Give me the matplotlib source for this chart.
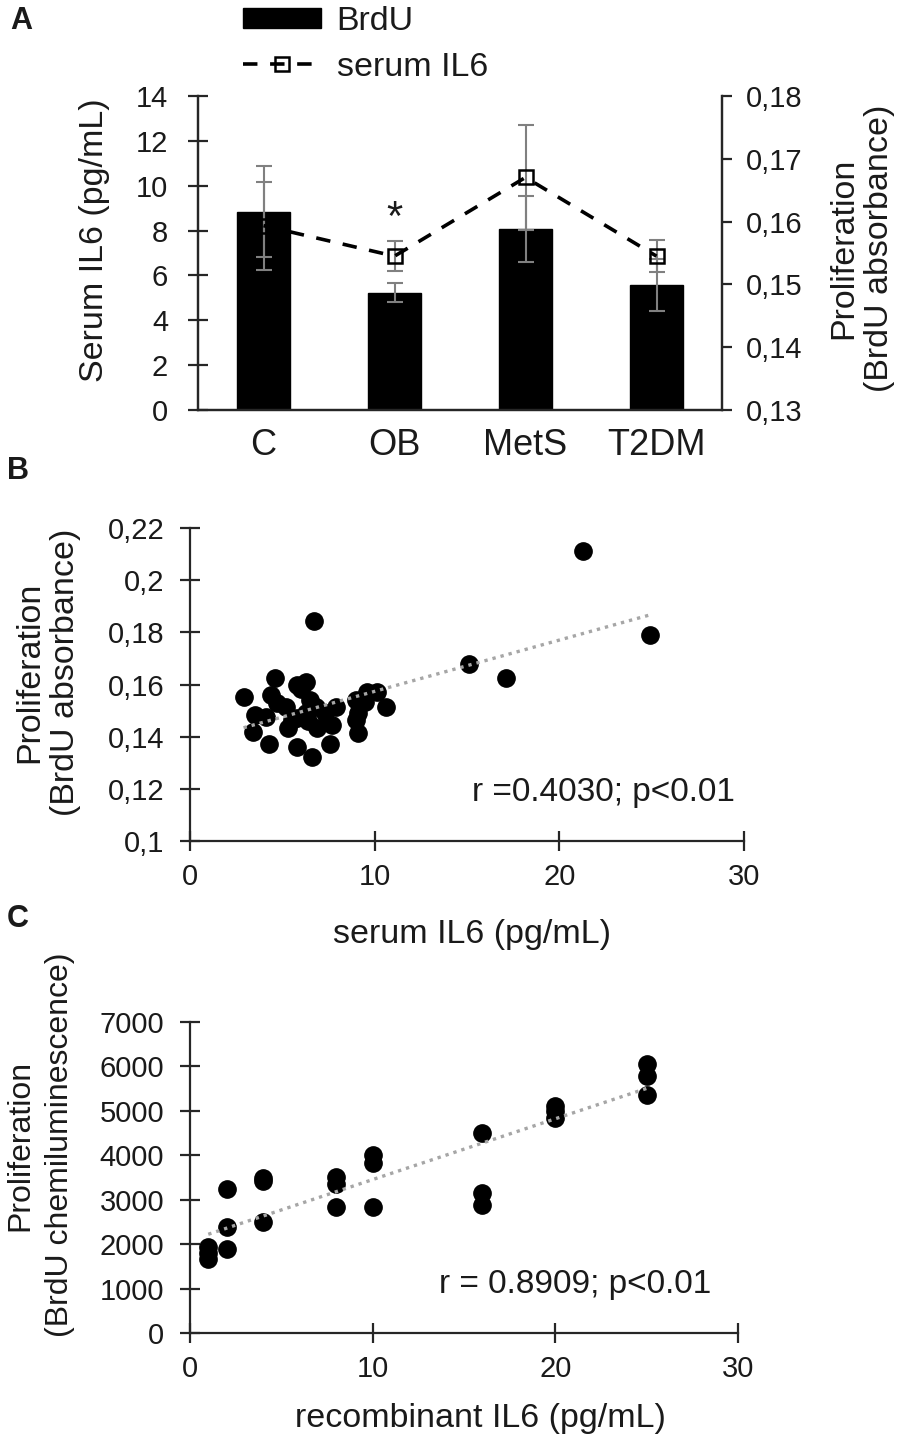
import numpy as np
import matplotlib
matplotlib.use('Agg')
import matplotlib.pyplot as plt

plt.rcParams['font.family'] = ['Liberation Sans', 'DejaVu Sans']
TXT = '#1a1a1a'
plt.rcParams['text.color'] = TXT
plt.rcParams['xtick.color'] = '#262626'
plt.rcParams['ytick.color'] = '#262626'
plt.rcParams['xtick.labelcolor'] = TXT
plt.rcParams['ytick.labelcolor'] = TXT

# ---------------- Panel A data ----------------
groups = ['C', 'OB', 'MetS', 'T2DM']
brdu_mean = [0.1616, 0.1487, 0.1588, 0.1499]
brdu_sem = [0.0072, 0.0015, 0.0052, 0.0041]
il6_mean = [8.22, 6.86, 10.37, 6.86]
il6_sem = [1.96, 0.67, 2.34, 0.70]
il6_ticks = [0, 2, 4, 6, 8, 10, 12, 14]
brdu_ticks = [0.13, 0.14, 0.15, 0.16, 0.17, 0.18]
brdu_ticklabels = ['0,13', '0,14', '0,15', '0,16', '0,17', '0,18']

# ---------------- Panel B data ----------------
serum_il6 = [21.3, 24.9, 15.1, 17.1, 6.7, 2.9, 4.6, 5.8, 6.3, 4.4, 4.7, 5.2,
             3.5, 4.1, 3.4, 4.3, 5.3, 5.8, 6.6, 7.6, 6.9, 6.5, 6.8, 7.3, 6.3,
             7.7, 7.9, 9.0, 9.1, 9.0, 9.1, 9.6, 10.1, 9.5, 10.6, 5.8, 6.0, 6.4, 5.5]
prolif_abs = [0.2112, 0.1790, 0.1680, 0.1625, 0.1845, 0.1551, 0.1624, 0.1598,
              0.1611, 0.1560, 0.1528, 0.1515, 0.1483, 0.1476, 0.1419, 0.1372,
              0.1432, 0.1361, 0.1323, 0.1372, 0.1432, 0.1540, 0.1515, 0.1489,
              0.1489, 0.1445, 0.1515, 0.1540, 0.1489, 0.1464, 0.1413, 0.1572,
              0.1572, 0.1534, 0.1515, 0.1471, 0.1581, 0.1460, 0.1465]
b_xticks = [0, 10, 20, 30]
b_yticks = [0.10, 0.12, 0.14, 0.16, 0.18, 0.20, 0.22]
b_yticklabels = ['0,1', '0,12', '0,14', '0,16', '0,18', '0,2', '0,22']
r_text_b = 'r =0.4030; p<0.01'

# ---------------- Panel C data ----------------
rec_il6 = [1, 1, 1, 2, 2, 2, 4, 4, 4, 8, 8, 8, 10, 10, 10, 16, 16, 16,
           20, 20, 20, 25, 25, 25]
chemilum = [1930, 1800, 1670, 3230, 2380, 1880, 3500, 3420, 2490, 3510, 3360,
            2840, 4000, 3820, 2840, 4500, 3150, 2880, 5100, 5000, 4850, 6060,
            5790, 5350]
c_xticks = [0, 10, 20, 30]
c_yticks = [0, 1000, 2000, 3000, 4000, 5000, 6000, 7000]
r_text_c = 'r = 0.8909; p<0.01'

W, H = 900, 1440
fig = plt.figure(figsize=(9, 14.4), dpi=100)


def rect(l, t, r, b):
    return [l / W, 1 - b / H, (r - l) / W, (b - t) / H]


def fx(x):
    return x / W


def fy(y):
    return 1 - y / H


SP = '#262626'
TICK_FS = 21
LAB_FS = 24.5
ERR = '#808080'


def style_spines(ax, show):
    for s in ['left', 'right', 'top', 'bottom']:
        ax.spines[s].set_visible(s in show)
        ax.spines[s].set_linewidth(1.6)
        ax.spines[s].set_color(SP)


# ---------------- Panel A ----------------
axA = fig.add_axes(rect(198, 96, 722, 410))
axA2 = axA.twinx()
xpos = np.arange(len(groups))
bars = axA2.bar(xpos, brdu_mean, width=0.41, color='black', edgecolor='black',
                label='BrdU', zorder=2)
axA2.errorbar(xpos, brdu_mean, yerr=brdu_sem, fmt='none', ecolor=ERR,
              elinewidth=1.5, capsize=6, capthick=1.5, zorder=3)
axA2.set_ylim(0.13, 0.18)
axA2.set_yticks(brdu_ticks, brdu_ticklabels)
axA2.tick_params(axis='y', direction='out', length=7, width=1.6, pad=10,
                 labelsize=TICK_FS)

axA.set_zorder(axA2.get_zorder() + 1)
axA.patch.set_visible(False)
axA.errorbar(xpos, il6_mean, yerr=il6_sem, fmt='none', ecolor=ERR,
             elinewidth=1.5, capsize=6, capthick=1.5, zorder=2)
line, = axA.plot(xpos, il6_mean, ls=(0, (4, 3.5)), color='black', lw=2.6,
                 marker='s', ms=10, mfc='none', mec='black', mew=1.8,
                 label='serum IL6', zorder=3)
axA.set_ylim(0, 14)
axA.set_xlim(-0.5, 3.5)
axA.set_yticks(il6_ticks)
axA.set_xticks(xpos, groups)
axA.tick_params(axis='y', direction='inout', length=14, width=1.6, pad=14.5,
                labelsize=TICK_FS)
axA.tick_params(axis='x', length=0, pad=13, labelsize=26)
style_spines(axA, ['left', 'bottom', 'right'])
style_spines(axA2, ['left', 'bottom', 'right'])

axA.text(1, il6_mean[1] + il6_sem[1] + 0.1, '*', ha='center', va='bottom',
         fontsize=30, color=TXT)

axA.legend([bars, line], ['BrdU', 'serum IL6'], loc='upper left',
           bbox_to_anchor=(fx(243), fy(6)), bbox_transform=fig.transFigure,
           frameon=False, fontsize=24.5, borderpad=0, handlelength=2.3,
           handleheight=0.55, handletextpad=0.45, labelspacing=0.43,
           numpoints=1, borderaxespad=0)

fig.text(fx(95), fy(240), 'Serum IL6 (pg/mL)', rotation=90, ha='center',
         va='center', fontsize=LAB_FS)
fig.text(fx(862), fy(248), 'Proliferation\n(BrdU absorbance)', rotation=90,
         ha='center', va='center', fontsize=LAB_FS, multialignment='center')

# ---------------- Panel B ----------------
axB = fig.add_axes(rect(190, 528, 744, 841))
axB.scatter(serum_il6, prolif_abs, s=155, c='black', edgecolors='black',
            zorder=2, clip_on=False)
coefB = np.polyfit(serum_il6, prolif_abs, 1)
xsB = np.array([min(serum_il6), max(serum_il6)])
axB.plot(xsB, np.polyval(coefB, xsB), ls=(0, (1, 1.5)), color='#a6a6a6',
         lw=2.4, zorder=3)
axB.set_xlim(0, 30)
axB.set_ylim(0.1, 0.22)
axB.set_xticks(b_xticks)
axB.set_yticks(b_yticks, b_yticklabels)
axB.tick_params(direction='inout', length=14, width=1.6, labelsize=TICK_FS)
axB.tick_params(axis='y', pad=11.5)
axB.tick_params(axis='x', pad=8.5)
style_spines(axB, ['left', 'bottom'])
fig.text(fx(603), fy(792), r_text_b, ha='center', va='center', fontsize=24)
fig.text(fx(472), fy(935), 'serum IL6 (pg/mL)', ha='center', va='center',
         fontsize=LAB_FS)
fig.text(fx(48), fy(672), 'Proliferation\n(BrdU absorbance)', rotation=90,
         ha='center', va='center', fontsize=LAB_FS, multialignment='center')

# ---------------- Panel C ----------------
axC = fig.add_axes(rect(190, 1022, 738, 1333))
axC.scatter(rec_il6, chemilum, s=155, c='black', edgecolors='black', zorder=2,
            clip_on=False)
coefC = np.polyfit(rec_il6, chemilum, 1)
xsC = np.array([min(rec_il6), max(rec_il6)])
axC.plot(xsC, np.polyval(coefC, xsC), ls=(0, (1, 1.5)), color='#a6a6a6',
         lw=2.4, zorder=3)
axC.set_xlim(0, 30)
axC.set_ylim(0, 7000)
axC.set_xticks(c_xticks)
axC.set_yticks(c_yticks)
axC.tick_params(direction='inout', length=14, width=1.6, labelsize=TICK_FS)
axC.tick_params(axis='y', pad=11.5)
axC.tick_params(axis='x', pad=8.5)
style_spines(axC, ['left', 'bottom'])
fig.text(fx(575), fy(1285), r_text_c, ha='center', va='center', fontsize=24)
fig.text(fx(480), fy(1418), 'recombinant IL6 (pg/mL)', ha='center',
         va='center', fontsize=LAB_FS)
fig.text(fx(40), fy(1145), 'Proliferation\n(BrdU chemiluminescence)',
         rotation=90, ha='center', va='center', fontsize=23,
         multialignment='center', linespacing=1.4)

# ---------------- Panel letters ----------------
fig.text(fx(10), fy(21), 'A', ha='left', va='center', fontsize=22,
         fontweight='bold')
fig.text(fx(7), fy(471), 'B', ha='left', va='center', fontsize=22,
         fontweight='bold')
fig.text(fx(7), fy(919), 'C', ha='left', va='center', fontsize=22,
         fontweight='bold')

fig.savefig('out.png', dpi=100, facecolor='white')
